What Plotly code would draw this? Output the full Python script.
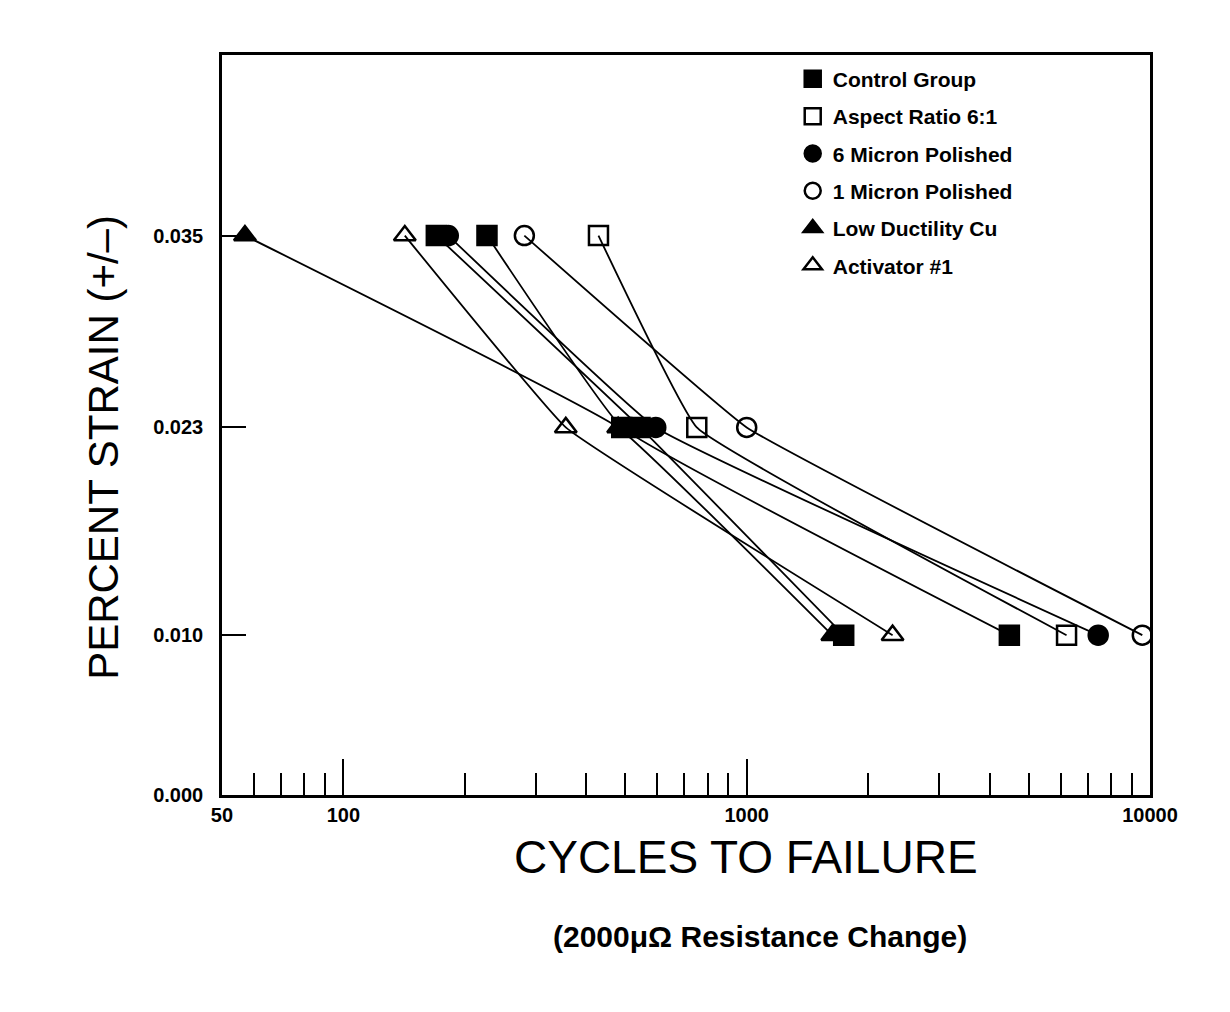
import plotly.graph_objects as go

# Strain amplitude levels used for every test group
strain_levels = [0.035, 0.023, 0.010]

# Cycles to failure at each strain level (same order as strain_levels)
cycles_control = [170, 544, 1740]
cycles_control_b = [227, 490, 4480]
cycles_aspect_ratio = [429, 752, 6210]
cycles_6_micron = [182, 595, 7440]
cycles_1_micron = [281, 1000, 9570]
cycles_low_ductility = [57, 480, 1630]
cycles_activator = [142, 356, 2300]

y_tick_values = [0.000, 0.010, 0.023, 0.035]
y_tick_labels = ["0.000", "0.010", "0.023", "0.035"]
x_tick_values = [50, 100, 1000, 10000]
x_tick_labels = ["50", "100", "1000", "10000"]
x_minor_values = [60, 70, 80, 90, 200, 300, 400, 500, 600, 700, 800, 900,
                  2000, 3000, 4000, 5000, 6000, 7000, 8000, 9000]

groups = [
    ("Control Group", cycles_control, "square", True),
    ("Aspect Ratio 6:1", cycles_aspect_ratio, "square-open", True),
    ("6 Micron Polished", cycles_6_micron, "circle", True),
    ("1 Micron Polished", cycles_1_micron, "circle-open", True),
    ("Low Ductility Cu", cycles_low_ductility, "triangle-up", True),
    ("Activator #1", cycles_activator, "triangle-up-open", True),
    ("Control Group", cycles_control_b, "square", False),
]

fig = go.Figure()

# Curves with their markers
for name, cycles, symbol, _ in groups:
    fig.add_trace(go.Scatter(
        x=cycles, y=strain_levels, mode="lines+markers", name=name,
        showlegend=False,
        line=dict(color="black", width=1.8, shape="spline", smoothing=0.25),
        marker=dict(symbol=symbol, size=19, color="black",
                    line=dict(color="black", width=2.5)),
    ))

# Legend entries show the symbol only
for i, (name, cycles, symbol, in_legend) in enumerate(groups):
    if not in_legend:
        continue
    fig.add_trace(go.Scatter(
        x=[None], y=[None], mode="markers", name=name, showlegend=True,
        legendgroup=f"g{i}",
        marker=dict(symbol=symbol, size=17, color="black",
                    line=dict(color="black", width=2.5)),
    ))

axis_font = dict(family="Liberation Sans, Arial, sans-serif", size=20,
                 color="black", weight="bold")

fig.update_xaxes(
    type="log", range=[1.699, 4.0],
    tickmode="array", tickvals=x_tick_values, ticktext=x_tick_labels,
    ticks="inside", ticklen=36, tickwidth=2, tickcolor="black",
    minor=dict(tickvals=x_minor_values, ticks="inside", ticklen=22,
               tickwidth=2, tickcolor="black", showgrid=False),
    showline=True, linecolor="black", linewidth=2.5, mirror=True,
    showgrid=False, zeroline=False, tickfont=axis_font,
)
fig.update_yaxes(
    range=[0, 0.0463],
    tickmode="array", tickvals=y_tick_values, ticktext=y_tick_labels,
    ticks="inside", ticklen=24, tickwidth=2, tickcolor="black",
    ticklabelstandoff=12,
    showline=True, linecolor="black", linewidth=2.5, mirror=True,
    showgrid=False, zeroline=False, tickfont=axis_font,
)

title_font = dict(family="Liberation Sans, Arial, sans-serif", color="black")

fig.add_annotation(
    text="PERCENT STRAIN (+/\u2013)", xref="paper", yref="paper",
    x=-0.155, y=0.47, textangle=-90, showarrow=False,
    font=dict(size=42, **title_font),
)
fig.add_annotation(
    text="CYCLES TO FAILURE", xref="paper", yref="paper",
    x=0.565, y=-0.122, showarrow=False,
    font=dict(size=46, **title_font),
)
fig.add_annotation(
    text="(2000\u03bc\u03a9 Resistance Change)", xref="paper", yref="paper",
    x=0.58, y=-0.216, showarrow=False,
    font=dict(size=30, weight="bold", **title_font),
)

fig.update_layout(
    width=1230, height=1012,
    margin=dict(l=222, r=80, t=55, b=217),
    paper_bgcolor="white", plot_bgcolor="white",
    legend=dict(
        x=0.615, y=0.995, xanchor="left", yanchor="top",
        bgcolor="rgba(0,0,0,0)", borderwidth=0,
        font=dict(family="Liberation Sans, Arial, sans-serif", size=21,
                  color="black", weight="bold"),
        itemsizing="trace", tracegroupgap=7,
    ),
)

fig.write_html("out.html")
